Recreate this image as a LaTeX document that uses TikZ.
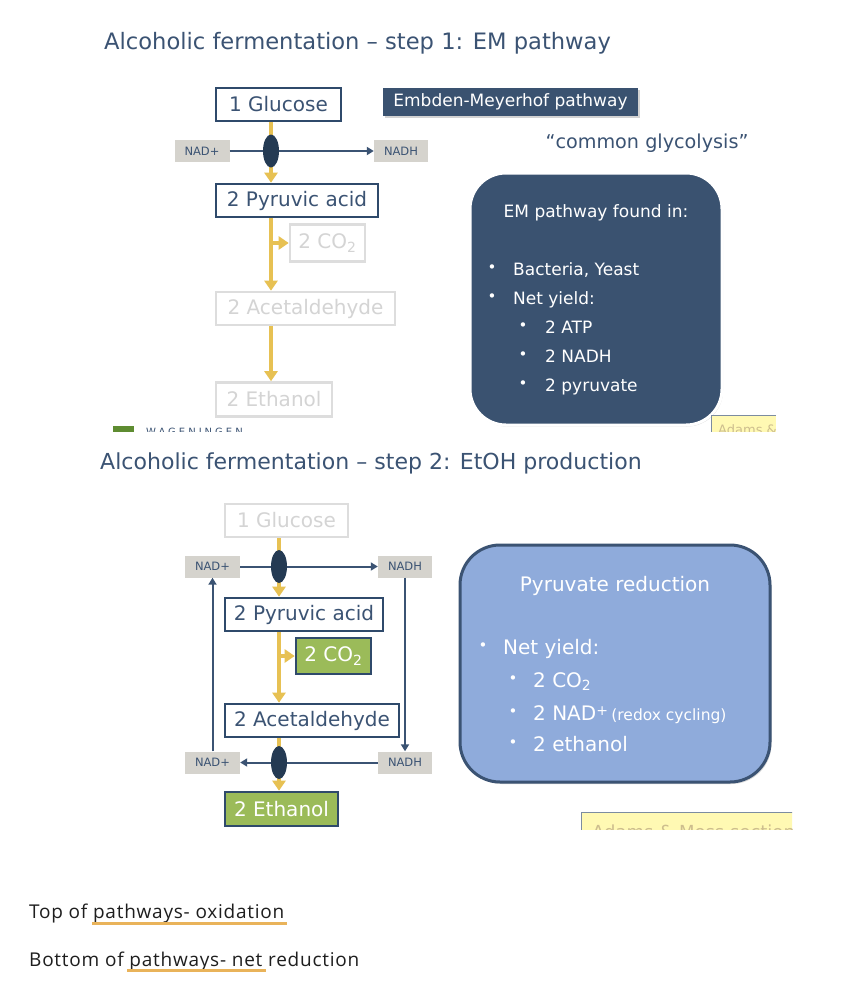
\documentclass[tikz,border=0pt]{standalone}
\usepackage{fontspec}
\setmainfont{DejaVu Sans}
\newfontfamily\notefont[LetterSpace=4]{Open Sans}
\usetikzlibrary{arrows.meta,shapes.geometric,shadows}
\definecolor{navy}{HTML}{3B5373}
\definecolor{boxline}{HTML}{2F4A6B}
\definecolor{ovalc}{HTML}{243A53}
\definecolor{goldc}{HTML}{E7C153}
\definecolor{nadgrey}{HTML}{D5D3CD}
\definecolor{fadec}{HTML}{DDDDDD}
\definecolor{fadetext}{HTML}{D4D4D4}
\definecolor{greenc}{HTML}{9BBB59}
\definecolor{emdark}{HTML}{3A5270}
\definecolor{lightblue}{HTML}{8FABDB}
\definecolor{notey}{HTML}{FFF9B3}
\definecolor{notet}{HTML}{CDBE8E}
\definecolor{noteline}{HTML}{7C8CA0}
\definecolor{underc}{HTML}{E9B35A}
\definecolor{wagg}{HTML}{5E8C31}
\definecolor{inkc}{HTML}{1E1E1E}
\tikzset{
  fsz/.style={font=\fontsize{#1}{#1}\selectfont},
  chem/.style={draw=boxline, line width=2.6pt, fill=white, text=navy, fsz=20, inner sep=0pt},
  faded/.style={draw=fadec, line width=2.6pt, fill=white, text=fadetext, fsz=20, inner sep=0pt},
  greenbox/.style={draw=boxline, line width=2.6pt, fill=greenc, text=white, fsz=20, inner sep=0pt},
  nadbox/.style={fill=nadgrey, text=navy, fsz=11.5, minimum width=55pt, minimum height=22pt, inner sep=0pt},
  oval/.style={ellipse, fill=ovalc, minimum width=16pt, minimum height=33pt, inner sep=0pt},
  yarr/.style={draw=goldc, line width=4pt, -{Triangle[width=13pt,length=10pt]}},
  narr/.style={draw=navy, line width=2pt, -{Triangle[width=8pt,length=7pt]}},
  titletext/.style={anchor=base west, inner sep=0pt, text=navy, fsz=22.6},
  whitetext/.style={anchor=base west, inner sep=0pt, text=white},
  bul/.style={inner sep=0pt, text=white, fsz=15},
  notetext/.style={anchor=base west, inner sep=0pt, text=inkc, font=\notefont\fontsize{19}{19}\selectfont},
}
\begin{document}
\begin{tikzpicture}[x=1pt,y=-1pt]
\useasboundingbox[fill=white] (0,0) rectangle (847,1001);

% ================= TOP PANEL =================
\node[titletext] (t1) at (104,49) {Alcoholic fermentation – step 1: EM pathway};

\node[chem, minimum width=125pt, minimum height=33pt] (g1) at (278.5,104.5) {1 Glucose};
\node[chem, minimum width=162pt, minimum height=33pt] (p1) at (297,200.5) {2 Pyruvic acid};
\node[faded, minimum width=75pt, minimum height=37pt] (co1) at (327.5,243) {2 CO\textsubscript{2}};
\node[faded, minimum width=179pt, minimum height=33pt] (a1) at (305.5,308.5) {2 Acetaldehyde};
\node[faded, minimum width=116pt, minimum height=34pt] (e1) at (274,399.5) {2 Ethanol};
\node[nadbox] (n1) at (202,151) {NAD+};
\node[nadbox, minimum width=54pt] (h1) at (401,151) {NADH};
\coordinate (o1c) at (271,151);

\draw[yarr] (g1.south -| o1c) -- (p1.north -| o1c);
\draw[narr] (n1.east) -- (h1.west);
\draw[yarr] (p1.south -| o1c) -- (a1.north -| o1c);
\draw[yarr] (co1.west -| o1c) -- (co1.west);
\draw[yarr] (a1.south -| o1c) -- (e1.north -| o1c);
\node[oval] (o1) at (o1c) {};

\node[fill=emdark, text=white, fsz=17, minimum width=255pt, minimum height=28pt, inner sep=0pt,
      drop shadow={opacity=0.35, shadow xshift=2pt, shadow yshift=-2pt}] (emb) at (510.5,102) {Embden-Meyerhof pathway};
\node[text=navy, fsz=19.2, inner sep=0pt] (cg) at (647,143) {“common glycolysis”};

\node[draw=white, line width=3pt, fill=emdark, rounded corners=36pt, minimum width=252pt, minimum height=252pt,
      drop shadow={opacity=0.3, shadow xshift=1pt, shadow yshift=-1.5pt}] (emboxA) at (596,299) {};
\node[anchor=base, inner sep=0pt, text=white, fsz=17] (emh) at (596,217) {EM pathway found in:};
\node[bul] (b1) at (492,269) {•};
\node[whitetext, fsz=17] (b1t) at (513,275) {Bacteria, Yeast};
\node[bul] (b2) at (492,298) {•};
\node[whitetext, fsz=17] (b2t) at (513,304) {Net yield:};
\node[bul] (b3) at (523,327) {•};
\node[whitetext, fsz=17] (b3t) at (545,333) {2 ATP};
\node[bul] (b4) at (523,356) {•};
\node[whitetext, fsz=17] (b4t) at (545,362) {2 NADH};
\node[bul] (b5) at (523,385) {•};
\node[whitetext, fsz=17] (b5t) at (545,391) {2 pyruvate};

\begin{scope}
  \clip (0,0) rectangle (847,431);
  \fill[wagg] (113,426) rectangle (134,434);
  \node[anchor=north west, inner sep=0pt, text=navy, font=\addfontfeature{LetterSpace=30}\fontsize{10}{10}\selectfont] (wag) at (146,427.5) {WAGENINGEN};
  \draw[noteline, fill=notey, line width=1pt] (776,440) -- (711,440) -- (711,415) -- (776,415);
  \node[anchor=base west, inner sep=0pt, text=notet, fsz=13] (ad1) at (718,434) {Adams \&};
\end{scope}

% ================= BOTTOM PANEL =================
\node[titletext, fsz=22.05] (t2) at (100,469) {Alcoholic fermentation – step 2: EtOH production};

\node[faded, minimum width=123pt, minimum height=33pt] (g2) at (286.5,520.5) {1 Glucose};
\node[chem, minimum width=158pt, minimum height=33pt] (p2) at (304,614.5) {2 Pyruvic acid};
\node[greenbox, minimum width=75pt, minimum height=36pt] (co2) at (333.5,656) {2 CO\textsubscript{2}};
\node[chem, minimum width=174pt, minimum height=33pt] (a2) at (312,720.5) {2 Acetaldehyde};
\node[greenbox, minimum width=113pt, minimum height=34pt] (e2) at (281.5,809) {2 Ethanol};
\node[nadbox] (n2) at (212.5,566.5) {NAD+};
\node[nadbox, minimum width=54pt] (h2) at (405,566.5) {NADH};
\node[nadbox] (n3) at (212.5,762.5) {NAD+};
\node[nadbox, minimum width=54pt] (h3) at (405,762.5) {NADH};
\coordinate (o2c) at (279,566.5);
\coordinate (o3c) at (279,762.5);

\draw[yarr] (g2.south -| o2c) -- (p2.north -| o2c);
\draw[yarr] (p2.south -| o2c) -- (a2.north -| o2c);
\draw[yarr] (co2.west -| o2c) -- (co2.west);
\draw[yarr] (a2.south -| o2c) -- (e2.north -| o2c);
\draw[narr] (n2.east) -- (h2.west);
\draw[narr] (h3.west) -- (n3.east);
\draw[narr] (n3.north) -- (n2.south);
\draw[narr] (h2.south) -- (h3.north);
\node[oval] (o2) at (o2c) {};
\node[oval] (o3) at (o3c) {};

\node[draw=navy, line width=3pt, fill=lightblue, rounded corners=40pt, minimum width=310pt, minimum height=237pt,
      drop shadow={opacity=0.3, shadow xshift=1.5pt, shadow yshift=-2pt}] (prbox) at (615,663.5) {};
\node[anchor=base, inner sep=0pt, text=white, fsz=20] (prh) at (615,591) {Pyruvate reduction};
\node[bul] (c1) at (483,647) {•};
\node[whitetext, fsz=20] (c1t) at (503,654) {Net yield:};
\node[bul] (c2) at (513,680) {•};
\node[whitetext, fsz=20] (c2t) at (533,687) {2 CO\textsubscript{2}};
\node[bul] (c3) at (513,713) {•};
\node[whitetext, fsz=20] (c3t) at (533,720) {2 NAD\raisebox{5pt}{\fontsize{14}{14}\selectfont +}\,{\fontsize{15.5}{15.5}\selectfont(redox cycling)}};
\node[bul] (c4) at (513,744) {•};
\node[whitetext, fsz=20] (c4t) at (533,751) {2 ethanol};

\begin{scope}
  \clip (0,800) rectangle (792,829);
  \draw[noteline, fill=notey, line width=1pt] (800,840) -- (581,840) -- (581,812) -- (800,812);
  \node[anchor=base west, inner sep=0pt, text=notet, fsz=18] (ad2) at (592,838) {Adams \& Moss section};
\end{scope}

% ================= NOTES =================
\node[notetext] (nt1) at (29,918) {Top of pathways- oxidation};
\node[notetext] (nt2) at (29,966) {Bottom of pathways- net reduction};
\draw[underc, line width=2.5pt] (92,923.5) -- (287,923.5);
\draw[underc, line width=2.5pt] (127,970.5) -- (266,970.5);
\end{tikzpicture}
\end{document}
